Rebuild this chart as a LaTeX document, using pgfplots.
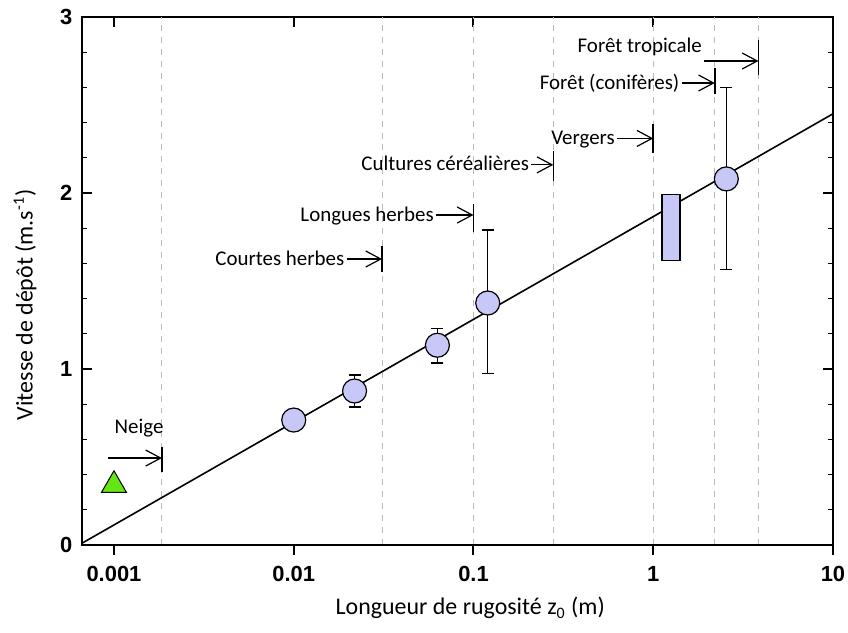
\documentclass[border=0pt]{standalone}
\usepackage{fontspec}
\setmainfont{Carlito}
\newfontfamily\tickfont{Liberation Sans}
\usepackage{pgfplots}
\pgfplotsset{compat=1.18}
\usetikzlibrary{arrows.meta}
\definecolor{lav}{RGB}{200,200,248}
\definecolor{grn}{RGB}{100,230,20}
\tikzset{annarrow/.style={black, line width=0.6bp, -{Straight Barb[length=7.5bp,width=8bp,line width=0.6bp]}},
         annbar/.style={black, line width=0.75bp},
         anntext/.style={font=\fontsize{10.5}{12}\selectfont, inner sep=1bp}}
\begin{document}
\begin{tikzpicture}
\begin{axis}[
  name=ax,
  scale only axis, width=375.5bp, height=264bp,
  xmode=log, log basis x=10,
  xmin=0.000664, xmax=10, ymin=0, ymax=3,
  xtick={0.001,0.01,0.1,1,10}, xticklabels={0.001,0.01,0.1,1,10},
  ytick={0,1,2,3}, yticklabels={0,1,2,3},
  minor y tick num=4,
  xtick pos=right, xticklabel pos=left,
  tick align=inside,
  major tick length=5bp, minor tick length=2.5bp,
  every major tick/.append style={line width=1bp, black},
  every minor tick/.append style={line width=0.6bp, black},
  axis line style={line width=1bp},
  tick label style={font=\tickfont\bfseries\fontsize{11}{13}\selectfont},
  xticklabel style={yshift=-7.3bp},
  yticklabel style={xshift=-1.3bp},
  xlabel={Longueur de rugosité z\textsubscript{0} (m)},
  ylabel={Vitesse de dépôt (m.s\textsuperscript{-1})},
  label style={font=\fontsize{12}{14}\selectfont},
  xlabel style={at={(axis description cs:0.517,-0.119)}, anchor=center},
  ylabel style={at={(axis description cs:-0.0759,0.455)}, anchor=center},
  extra x ticks={0.00185,0.031,0.1,0.278,1,2.2,3.85},
  extra x tick labels={},
  extra x tick style={major tick length=0pt, grid=major,
     major grid style={dashed, gray!55, line width=0.5bp}},
]
% regression line
\addplot[black, line width=0.8bp] coordinates {(0.000664,0.01) (10,2.45)};

% error bars
\addplot[draw=none, mark=none,
  error bars/.cd, y dir=both, y explicit,
  error bar style={draw=black, solid, line width=0.75bp},
  error mark options={draw=black, rotate=90, mark size=3bp, line width=0.75bp}]
  table[x=x, y=y, y error plus=ep, y error minus=em] {
x      y      ep     em
0.0218 0.875  0.09   0.09
0.063  1.135  0.095  0.10
0.12   1.375  0.415  0.40
2.55   2.08   0.52   0.515
};

% circles
\addplot[only marks, mark=*, mark size=6bp,
  mark options={fill=lav, draw=black, line width=0.6bp}]
  table {
x      y
0.01   0.71
0.0218 0.875
0.063  1.135
0.12   1.375
2.55   2.08
};

% rectangle
\addplot[fill=lav, draw=black, line width=0.6bp] coordinates {(1.12,1.615) (1.41,1.615) (1.41,1.99) (1.12,1.99)} -- cycle;

% triangle
\addplot[only marks, mark=triangle*, mark size=7.2bp,
  mark options={fill=grn, draw=black, line width=0.5bp}] coordinates {(0.001,0.34)};

% annotations: Neige
\addplot[annarrow] coordinates {(0.000926,0.494) (0.00185,0.494)};
\addplot[annbar] coordinates {(0.00185,0.415) (0.00185,0.557)};
\node[anntext, anchor=center] at (0.00138,0.665) {Neige};
% Courtes herbes
\addplot[annarrow] coordinates {(0.0197,1.625) (0.031,1.625)};
\addplot[annbar] coordinates {(0.031,1.55) (0.031,1.70)};
\node[anntext, anchor=base east, yshift=-3bp] at (0.0197,1.625) {Courtes herbes};
% Longues herbes
\addplot[annarrow] coordinates {(0.062,1.875) (0.1,1.875)};
\addplot[annbar] coordinates {(0.1,1.78) (0.1,1.94)};
\node[anntext, anchor=base east, yshift=-3bp] at (0.062,1.875) {Longues herbes};
% Cultures
\addplot[annarrow] coordinates {(0.21,2.16) (0.278,2.16)};
\addplot[annbar] coordinates {(0.278,2.07) (0.278,2.24)};
\node[anntext, anchor=base east, yshift=-3bp] at (0.21,2.16) {Cultures céréalières};
% Vergers
\addplot[annarrow] coordinates {(0.63,2.31) (1,2.31)};
\addplot[annbar] coordinates {(1,2.23) (1,2.39)};
\node[anntext, anchor=base east, yshift=-3bp] at (0.63,2.31) {Vergers};
% Foret coniferes
\addplot[annarrow] coordinates {(1.44,2.625) (2.2,2.625)};
\addplot[annbar] coordinates {(2.2,2.56) (2.2,2.71)};
\node[anntext, anchor=base east, yshift=-3bp] at (1.44,2.625) {Forêt (conifères)};
% Foret tropicale
\addplot[annarrow] coordinates {(1.92,2.75) (3.85,2.75)};
\addplot[annbar] coordinates {(3.85,2.67) (3.85,2.87)};
\node[anntext, anchor=base east, yshift=-3bp] at (1.92,2.83) {Forêt tropicale};
\end{axis}
% bottom axis with outward ticks
\begin{axis}[
  at={(ax.south west)}, anchor=south west,
  scale only axis, width=375.5bp, height=264bp,
  xmode=log, log basis x=10,
  xmin=0.000664, xmax=10, ymin=0, ymax=3,
  hide y axis, axis x line*=bottom,
  xtick={0.001,0.01,0.1,1,10}, xticklabels={},
  tick align=outside,
  major tick length=5bp, minor tick length=2.5bp,
  every major tick/.append style={line width=1bp, black},
  every minor tick/.append style={line width=0.6bp, black},
  axis line style={line width=1bp},
]
\end{axis}
\pgfresetboundingbox
\path[use as bounding box] ([xshift=-41bp,yshift=-44bp]ax.south west) rectangle ([xshift=7.5bp,yshift=8.5bp]ax.north east);
\end{tikzpicture}
\end{document}
